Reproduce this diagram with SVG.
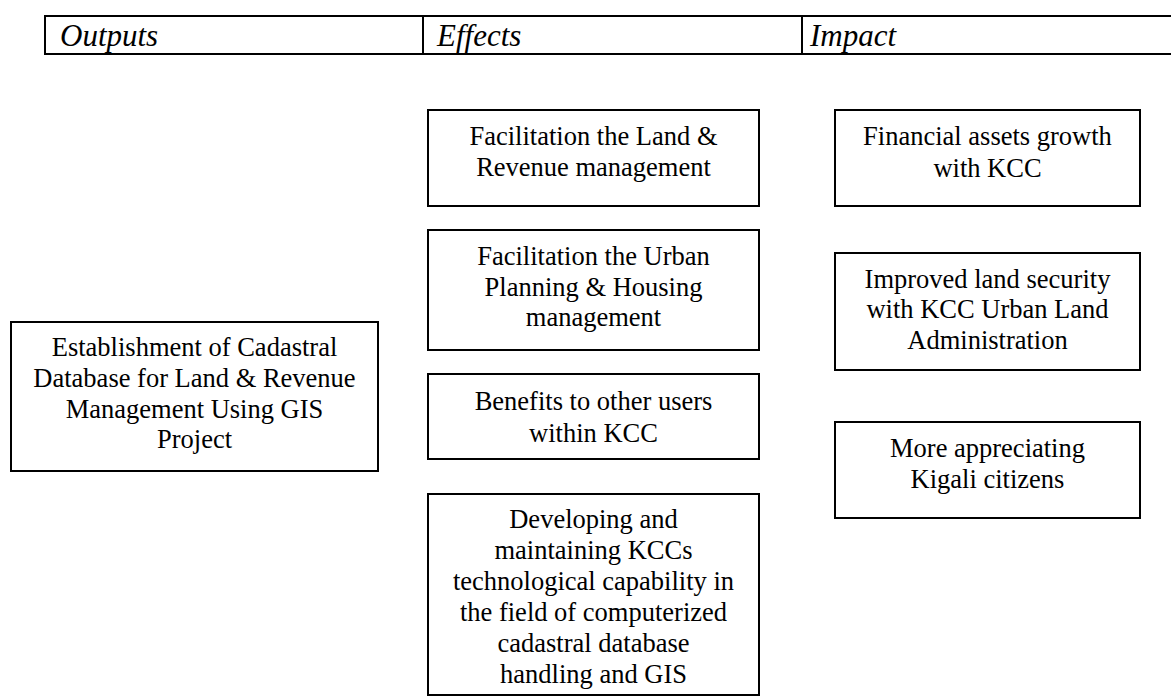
<svg xmlns="http://www.w3.org/2000/svg" width="1171" height="696" viewBox="0 0 1171 696">
<style>
.box{fill:#fff;stroke:#000;stroke-width:2}
.rule{stroke:#000;stroke-width:2;fill:none}
.t{font-family:"Liberation Serif","Times New Roman",serif;font-size:26.5px;fill:#000;text-anchor:middle}
.h{font-family:"Liberation Serif","Times New Roman",serif;font-size:31px;font-style:italic;fill:#000}
</style>
<rect width="1171" height="696" fill="#fff"/>
<g id="header">
<line class="rule" x1="45" y1="16" x2="1171" y2="16"/>
<line class="rule" x1="45" y1="54" x2="1171" y2="54"/>
<line class="rule" x1="45" y1="15" x2="45" y2="55"/>
<line class="rule" x1="423" y1="16" x2="423" y2="54"/>
<line class="rule" x1="802" y1="16" x2="802" y2="54"/>
<text class="h" x="60" y="46">Outputs</text>
<text class="h" x="437" y="46">Effects</text>
<text class="h" x="810" y="46">Impact</text>
</g>
<g id="output-cadastral">
<rect class="box" x="11" y="322" width="367" height="149"/>
<text class="t" x="194.5" y="356">Establishment of Cadastral</text>
<text class="t" x="194.5" y="387">Database for Land &amp; Revenue</text>
<text class="t" x="194.5" y="418">Management Using GIS</text>
<text class="t" x="194.5" y="448">Project</text>
</g>
<g id="effect-land-revenue">
<rect class="box" x="428" y="110" width="331" height="96"/>
<text class="t" x="593.5" y="145">Facilitation the Land &amp;</text>
<text class="t" x="593.5" y="176">Revenue management</text>
</g>
<g id="effect-urban-planning">
<rect class="box" x="428" y="230" width="331" height="120"/>
<text class="t" x="593.5" y="265">Facilitation the Urban</text>
<text class="t" x="593.5" y="296">Planning &amp; Housing</text>
<text class="t" x="593.5" y="326">management</text>
</g>
<g id="effect-other-users">
<rect class="box" x="428" y="374" width="331" height="85"/>
<text class="t" x="593.5" y="410">Benefits to other users</text>
<text class="t" x="593.5" y="442">within KCC</text>
</g>
<g id="effect-capability">
<rect class="box" x="428" y="494" width="331" height="201"/>
<text class="t" x="593.5" y="528">Developing and</text>
<text class="t" x="593.5" y="559">maintaining KCCs</text>
<text class="t" x="593.5" y="590">technological capability in</text>
<text class="t" x="593.5" y="621">the field of computerized</text>
<text class="t" x="593.5" y="652">cadastral database</text>
<text class="t" x="593.5" y="683">handling and GIS</text>
</g>
<g id="impact-financial">
<rect class="box" x="835" y="110" width="305" height="96"/>
<text class="t" x="987.5" y="145">Financial assets growth</text>
<text class="t" x="987.5" y="177">with KCC</text>
</g>
<g id="impact-land-security">
<rect class="box" x="835" y="253" width="305" height="117"/>
<text class="t" x="987.5" y="288">Improved land security</text>
<text class="t" x="987.5" y="318">with KCC Urban Land</text>
<text class="t" x="987.5" y="349">Administration</text>
</g>
<g id="impact-citizens">
<rect class="box" x="835" y="422" width="305" height="96"/>
<text class="t" x="987.5" y="457">More appreciating</text>
<text class="t" x="987.5" y="488">Kigali citizens</text>
</g>
<g id="connectors"/>
</svg>
